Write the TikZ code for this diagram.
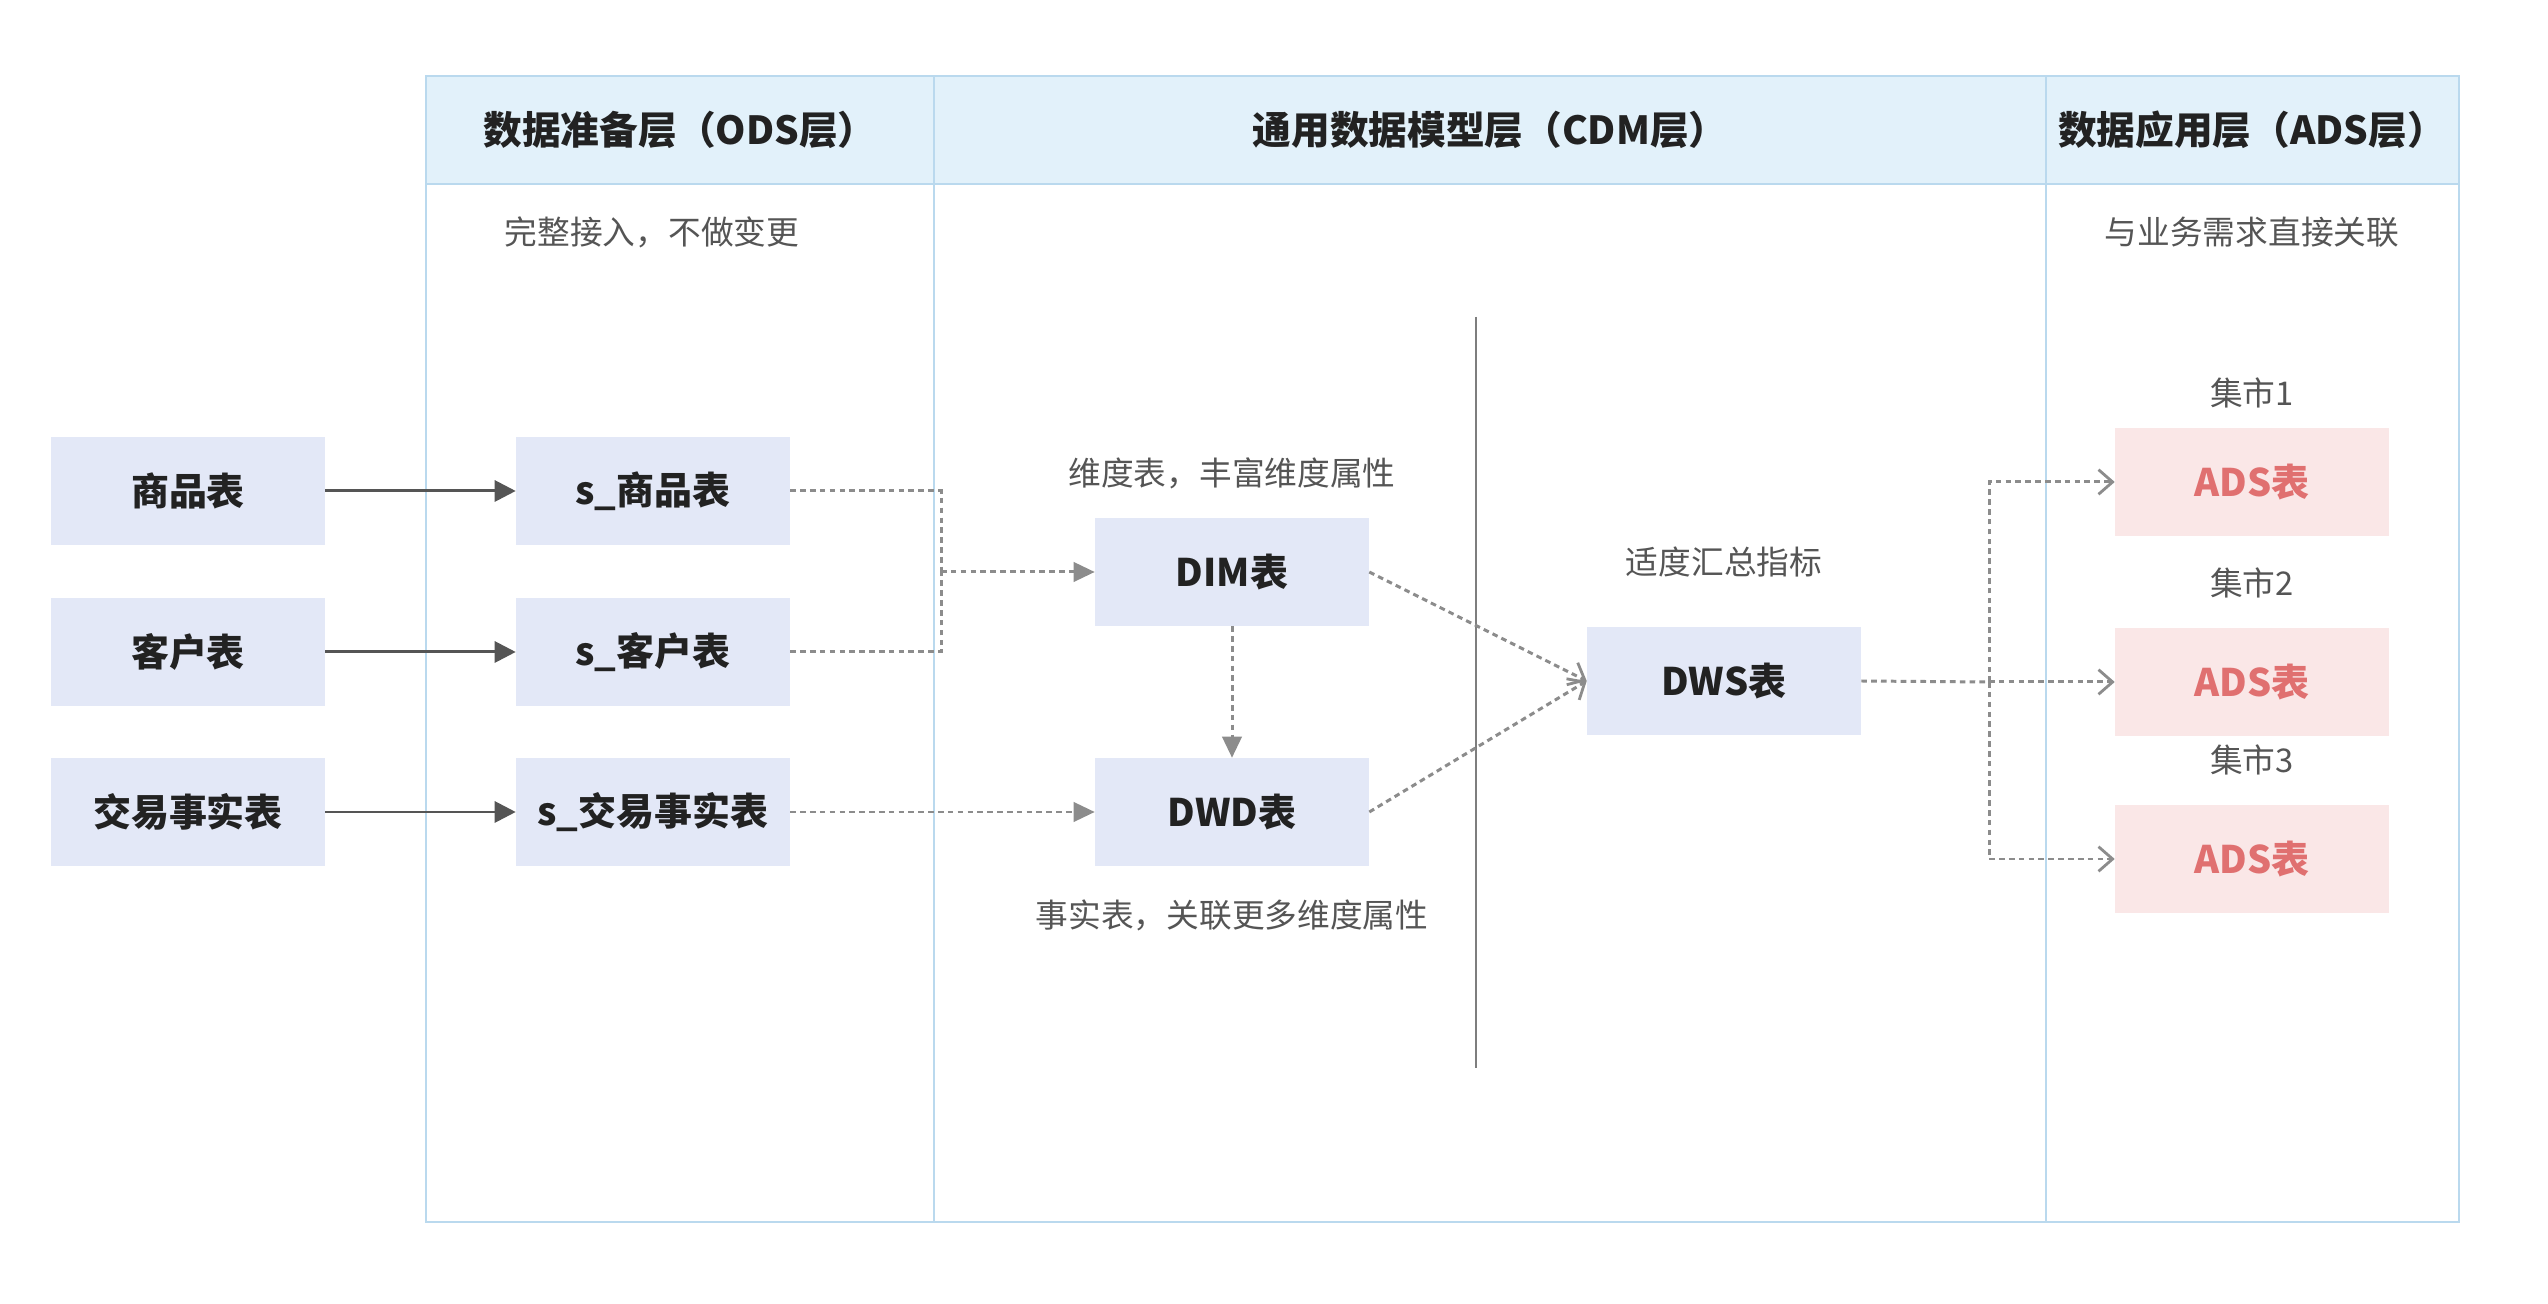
\documentclass[tikz,border=0pt]{standalone}
\usepackage{fontspec}
\setmainfont{Noto Sans CJK SC}
\usetikzlibrary{arrows.meta}
\definecolor{boxblue}{HTML}{E3E8F7}
\definecolor{headblue}{HTML}{E2F1FA}
\definecolor{frameblue}{HTML}{BAD9EE}
\definecolor{adsfill}{HTML}{FAE7E7}
\definecolor{adstext}{HTML}{E07070}
\definecolor{txtdark}{HTML}{222222}
\definecolor{txtgray}{HTML}{555555}
\definecolor{dotgray}{HTML}{8C8C8C}
\definecolor{arrdark}{HTML}{555555}
\tikzset{
  tbl/.style={rectangle, fill=boxblue, minimum width=2.73cm, minimum height=1.07cm, inner sep=0pt,
    text=txtdark, font=\fontsize{10.8pt}{13pt}\selectfont\bfseries},
  adsbox/.style={tbl, fill=adsfill, text=adstext},
  headtxt/.style={text=txtdark, font=\fontsize{11pt}{13pt}\selectfont\bfseries},
  subtxt/.style={text=txtgray, font=\fontsize{9.3pt}{11pt}\selectfont},
  frameline/.style={draw=frameblue, line width=0.8pt},
  solidarr/.style={draw=arrdark, line width=0.85pt, -{Triangle[length=6pt,width=6pt]}},
  dotline/.style={draw=dotgray, line width=0.85pt, dash pattern=on 1.6pt off 1.2pt},
  dotarr/.style={dotline, -{Triangle[length=6pt,width=5.5pt]}},
  dotopen/.style={dotline, -{Straight Barb[length=4pt,width=7pt,line width=0.8pt]}},
  seprule/.style={draw=dotgray!90!black, line width=0.7pt}
}
\begin{document}
\begin{tikzpicture}[x=0.01cm,y=-0.01cm]
\useasboundingbox (0,0) rectangle (2548,1304);
\fill[white] (0,0) rectangle (2548,1304);
% frame and header
\fill[headblue] (426,76) rectangle (2459,184);
\draw[frameline] (426,76) rectangle (2459,1222);
\draw[frameline] (426,184) -- (2459,184);
\draw[frameline] (934,76) -- (934,1222);
\draw[frameline] (2046,76) -- (2046,1222);
\node[headtxt] (h1) at (680,130) {数据准备层（ODS层）};
\node[headtxt] (h2) at (1490,130) {通用数据模型层（CDM层）};
\node[headtxt] (h3) at (2252,130) {数据应用层（ADS层）};
\node[subtxt] (st1) at (652,232) {完整接入，不做变更};
\node[subtxt] (st3) at (2252,232) {与业务需求直接关联};
% separator in CDM
\draw[seprule] (1476,317) -- (1476,1068);
% source tables
\node[tbl] (a1) at (188,491) {商品表};
\node[tbl] (a2) at (188,652) {客户表};
\node[tbl] (a3) at (188,812) {交易事实表};
% ODS tables
\node[tbl] (s1) at (653,491) {s\_商品表};
\node[tbl] (s2) at (653,652) {s\_客户表};
\node[tbl] (s3) at (653,812) {s\_交易事实表};
% CDM
\node[tbl] (dim) at (1232,572) {DIM表};
\node[tbl] (dwd) at (1232,812) {DWD表};
\node[subtxt] (ldim) at (1232,473) {维度表，丰富维度属性};
\node[subtxt] (ldwd) at (1232,915) {事实表，关联更多维度属性};
\node[tbl] (dws) at (1724,681) {DWS表};
\node[subtxt] (ldws) at (1724,562) {适度汇总指标};
% ADS
\node[adsbox] (ads1) at (2252,482) {ADS表};
\node[adsbox] (ads2) at (2252,682) {ADS表};
\node[adsbox] (ads3) at (2252,859) {ADS表};
\node[subtxt] (m1) at (2252,393) {集市1};
\node[subtxt] (m2) at (2252,583) {集市2};
\node[subtxt] (m3) at (2252,760) {集市3};
% connectors
\draw[solidarr] (a1) -- (s1);
\draw[solidarr] (a2) -- (s2);
\draw[solidarr] (a3) -- (s3);
\coordinate (j) at (941,572);
\draw[dotline] (s1.east) -| (j);
\draw[dotline] (s2.east) -| (j);
\draw[dotarr] (j) -- (dim.west);
\draw[dotarr] (s3) -- (dwd);
\draw[dotarr] (dim) -- (dwd);
\draw[dotopen] (dim.east) -- (dws.west);
\draw[dotopen] (dwd.east) -- (dws.west);
\coordinate (b) at (1989,682);
\draw[dotline] (dws.east) -- (b);
\draw[dotopen] (b) |- (ads1.west);
\draw[dotopen] (b) -- (ads2.west);
\draw[dotopen] (b) |- (ads3.west);
\end{tikzpicture}
\end{document}
